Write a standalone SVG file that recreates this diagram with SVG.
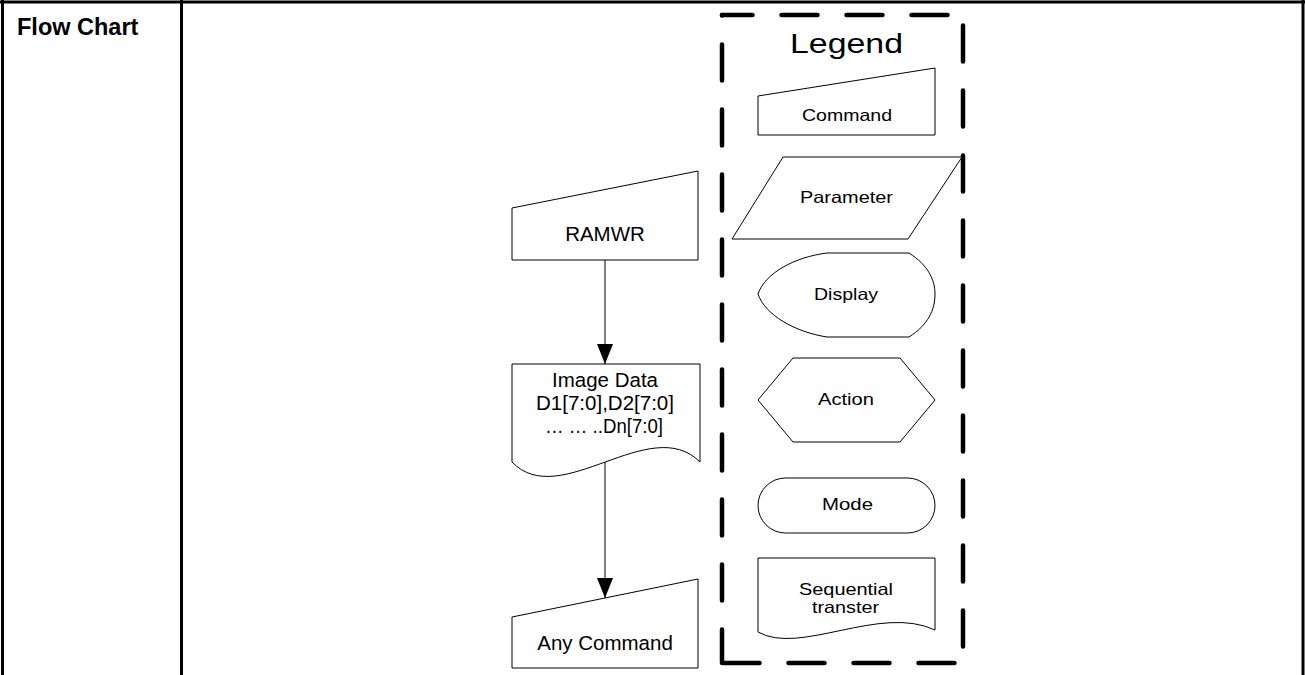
<svg xmlns="http://www.w3.org/2000/svg" width="1305" height="675" viewBox="0 0 1305 675">
<style>
.tbl{stroke:#000;stroke-width:3;fill:none}
.shape{fill:#fff;stroke:#000;stroke-width:1}
.conn{stroke:#000;stroke-width:1;fill:none}
.dash{stroke:#000;stroke-width:4.5;stroke-linecap:round;stroke-dasharray:36 29;fill:none}
.t{font-family:"Liberation Sans",Arial,sans-serif;fill:#000;text-anchor:middle}
.main{font-size:20.5px}
.leg{font-size:16.5px}
.title{font-family:"Liberation Sans",Arial,sans-serif;font-weight:bold;font-size:23.5px;fill:#000}
</style>
<defs>
<marker id="arrow" markerUnits="userSpaceOnUse" markerWidth="20" markerHeight="16" refX="20" refY="8" orient="auto">
<path d="M0,0 L20,8 L0,16 Z" fill="#000"/>
</marker>
</defs>
<rect width="1305" height="675" fill="#fff"/>
<g id="table">
<line class="tbl" x1="0" y1="2" x2="1305" y2="2"/>
<line class="tbl" x1="2.5" y1="0" x2="2.5" y2="675"/>
<line class="tbl" x1="181.5" y1="0" x2="181.5" y2="675"/>
<line class="tbl" x1="1303" y1="0" x2="1303" y2="675"/>
<text class="title" x="17" y="35">Flow Chart</text>
</g>
<g id="connectors">
<line class="conn" x1="605" y1="260" x2="605" y2="364" marker-end="url(#arrow)"/>
<line class="conn" x1="605" y1="462" x2="605" y2="598" marker-end="url(#arrow)"/>
</g>
<g id="ramwr">
<path class="shape" d="M512,208 L698,171 L698,260 L512,260 Z"/>
<text class="t main" x="605" y="241">RAMWR</text>
</g>
<g id="image-data">
<path class="shape" d="M512,364 L700,364 L700,462 C650,412 560,512 512,462 Z"/>
<text class="t main" x="605" y="387">Image Data</text>
<text class="t main" x="605" y="410">D1[7:0],D2[7:0]</text>
<text class="t main" x="604" y="433" textLength="118" lengthAdjust="spacingAndGlyphs">… … ..Dn[7:0]</text>
</g>
<g id="any-command">
<path class="shape" d="M512,617 L698,579 L698,668 L512,668 Z"/>
<text class="t main" x="605" y="650">Any Command</text>
</g>
<g id="legend">
<line class="dash" x1="722" y1="15" x2="963" y2="15" stroke-dashoffset="5.5"/>
<line class="dash" x1="963" y1="15" x2="963" y2="663" stroke-dashoffset="54.5"/>
<line class="dash" x1="963" y1="663" x2="722" y2="663" stroke-dashoffset="56.5"/>
<line class="dash" x1="722" y1="663" x2="722" y2="15" stroke-dashoffset="2.5"/>
<text class="t" x="846.5" y="53" font-size="27.5" textLength="113" lengthAdjust="spacingAndGlyphs">Legend</text>
</g>
<g id="legend-command">
<path class="shape" d="M758,96 L935,68 L935,135 L758,135 Z"/>
<text class="t leg" x="847" y="121" textLength="90" lengthAdjust="spacingAndGlyphs">Command</text>
</g>
<g id="legend-parameter">
<path class="shape" d="M783,157 L962,157 L908,239 L732,239 Z"/>
<text class="t leg" x="846.5" y="203" textLength="93" lengthAdjust="spacingAndGlyphs">Parameter</text>
</g>
<g id="legend-display">
<path class="shape" d="M827,253 L909,253 C928,265 935,280 935,294 C935,310 928,325 909,337 L827,337 C795,332 765,315 758,294 C765,273 795,257 827,253 Z"/>
<text class="t leg" x="846" y="300" textLength="64" lengthAdjust="spacingAndGlyphs">Display</text>
</g>
<g id="legend-action">
<path class="shape" d="M758,400 L793,358 L900,358 L935,400 L900,442 L793,442 Z"/>
<text class="t leg" x="846" y="405" textLength="56" lengthAdjust="spacingAndGlyphs">Action</text>
</g>
<g id="legend-mode">
<rect class="shape" x="758" y="478" width="177" height="55" rx="27.5" ry="27.5"/>
<text class="t leg" x="847.5" y="510" textLength="51" lengthAdjust="spacingAndGlyphs">Mode</text>
</g>
<g id="legend-sequential">
<path class="shape" d="M758,558 L935,558 L935,630 C880,604 800,656 758,632 Z"/>
<text class="t leg" x="846" y="595" textLength="94" lengthAdjust="spacingAndGlyphs">Sequential</text>
<text class="t leg" x="845.5" y="613" textLength="67" lengthAdjust="spacingAndGlyphs">transter</text>
</g>
</svg>
